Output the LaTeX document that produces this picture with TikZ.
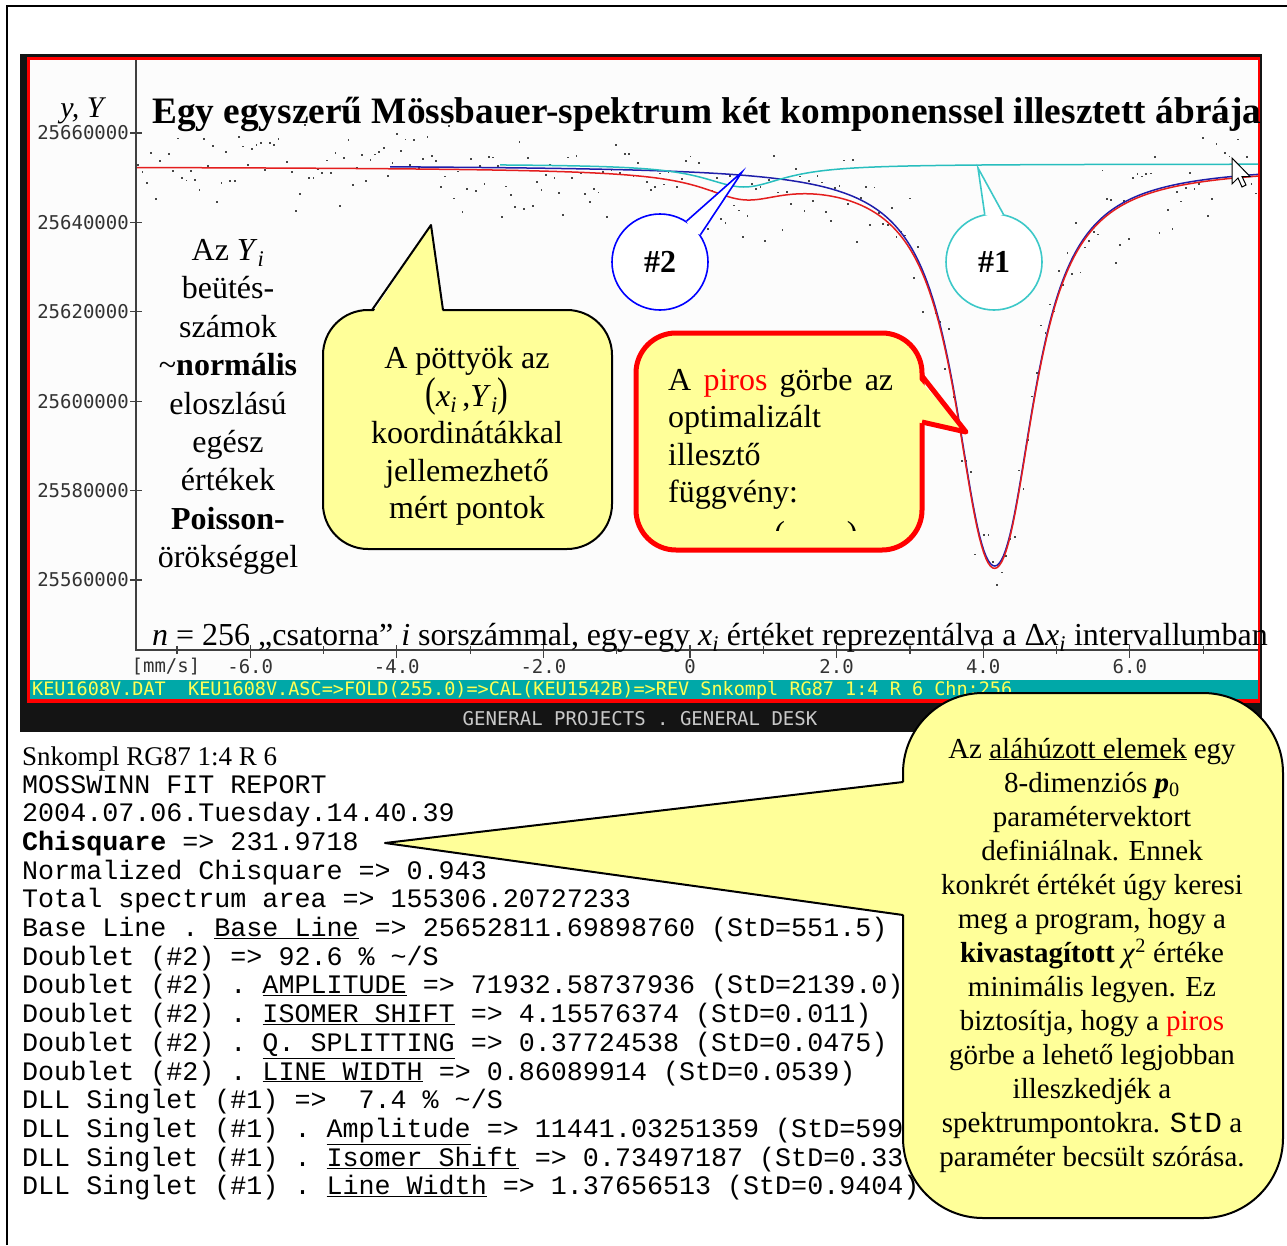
\documentclass[tikz,border=0pt]{standalone}
\usepackage{fontspec}
\setmainfont{Liberation Serif}
\setmonofont{Liberation Mono}
\newfontfamily\dosfont{DejaVu Sans Mono}
\usetikzlibrary{calc}

\definecolor{calloutyellow}{RGB}{255,255,153}
\definecolor{screenteal}{RGB}{0,168,168}
\definecolor{statusyellow}{RGB}{255,255,85}
\definecolor{plotbg}{RGB}{252,252,252}
\definecolor{curvered}{RGB}{228,30,30}
\definecolor{curveblue}{RGB}{30,30,170}
\definecolor{curvecyan}{RGB}{40,190,190}
\definecolor{onecyan}{RGB}{60,200,200}
\definecolor{deskgray}{RGB}{200,200,200}
\definecolor{dotgray}{RGB}{70,70,70}

\newcommand{\setfs}[2]{\fontsize{#1}{#2}\selectfont}
\newcommand{\subi}[1]{\textit{#1}\textsubscript{\textit{i}}}

\begin{document}
\begin{tikzpicture}[x=1pt, y=-1pt,
	declare function={lor(\v,\c,\g)=1/(1+((\v-\c)/\g)^2);
		dub(\v)=227*(lor(\v,3.967,0.52)+lor(\v,4.345,0.52));
		sng(\v)=23*lor(\v,0.735,0.69);},
	dos/.style={font=\dosfont\setfs{19}{22}},
	ticklab/.style={dos, text=black!80, inner sep=1pt},
	callout/.style={draw, line width=2, fill=calloutyellow},
	listing/.style={anchor=base west, inner sep=0, font=\ttfamily\setfs{26.7}{28.7}},
	bigtext/.style={font=\setfs{32}{38.4}, align=center}]
	\useasboundingbox (0,0) rectangle (1287,1245);
	\fill[white] (0,0) rectangle (1287,1245);
	% page frame
	\draw[line width=2.5] (7,1245) -- (7,6) -- (1287,6);

	% the screen
	\fill[black!92] (20,54) rectangle (1262,732);
	\fill[red] (27,57) rectangle (1260,703);
	\fill[plotbg] (30,60) rectangle (1258,680);
	\fill[screenteal] (30,680) rectangle (1258,699);
	\node[dos, text=statusyellow, anchor=west, inner sep=0, font=\dosfont\setfs{18.5}{20}] (status) at (32,690) {KEU1608V.DAT\ \ KEU1608V.ASC=>FOLD(255.0)=>CAL(KEU1542B)=>REV Snkompl RG87 1:4 R 6 Chn:256};
	\node[dos, text=deskgray] (desk) at (640,719) {GENERAL PROJECTS . GENERAL DESK};

	% measured points
	\pgfmathsetseed{4711}
	\foreach \i in {0,...,255}{
		\pgfmathsetmacro\px{136+(\i+0.5)*4.383}
		\pgfmathsetmacro\pv{(\px-690)/73.3}
		\pgfmathsetmacro\py{165+dub(\pv)+sng(\pv)+22*(rand+rand+rand)}
		\fill[dotgray] (\px-0.9,\py-0.9) rectangle (\px+0.9,\py+0.9);
	}

	% fitted curves
	\draw[curveblue, line width=1.5] plot[domain=390:1258, samples=400] (\x, {165+dub((\x-690)/73.3)});
	\draw[curvered, line width=1.5] plot[domain=136:1258, samples=500] (\x, {166.5+dub((\x-690)/73.3)+sng((\x-690)/73.3)});
	\draw[curvecyan, line width=1.5] plot[domain=500:1258, samples=300] (\x, {164+sng((\x-690)/73.3)});

	% axes
	\draw[black!75, line width=1.2] (136,60) -- (136,650) -- (1258,650);
	\foreach \val/\yy in {25660000/133, 25640000/222.4, 25620000/311.8, 25600000/401.2, 25580000/490.6, 25560000/580}{
		\draw[black!75, line width=1.2] (130,\yy) -- (142,\yy);
		\node[ticklab, anchor=east] at (130,\yy) {\val};
	}
	\foreach \lab/\xx in {-6.0/250.2, -4.0/396.8, -2.0/543.4, 0/690, 2.0/836.6, 4.0/983.2, 6.0/1129.8}{
		\draw[black!75, line width=1.2] (\xx,645) -- (\xx,658);
		\node[ticklab] at (\xx,667) {\lab};
	}
	\foreach \xx in {176.9, 323.5, 470.1, 616.7, 763.3, 909.9, 1056.5, 1203.1}
		\draw[black!75, line width=1.2] (\xx,646) -- (\xx,654);
	\node[ticklab] (unit) at (166,667) {[mm/s]};

	% mouse pointer
	\draw[fill=white, line width=1] (1232,158) -- ++(0,26) -- ++(6,-6) -- ++(4,9) -- ++(4,-2) -- ++(-4,-8.5) -- ++(8,0) -- cycle;

	% titles
	\node[anchor=base west, inner sep=0, font=\setfs{37.3}{40}\bfseries] (title) at (152,123) {Egy egyszerű Mössbauer-spektrum két komponenssel illesztett ábrája};
	\node[anchor=base, inner sep=0, font=\setfs{30}{36}\itshape] (ylab) at (82,117) {y, Y};
	\node[anchor=base west, inner sep=0, font=\setfs{32}{36}] (chan) at (152,645) {\textit{n} = 256 „csatorna” \textit{i} sorszámmal, egy-egy \subi{x} értéket reprezentálva a Δ\subi{x} intervallumban};
	\node[bigtext] (counts) at (228,407) {Az \subi{Y}\\beütés-\\számok\\\textasciitilde\textbf{normális}\\eloszlású\\egész\\értékek\\\textbf{Poisson-}\\örökséggel};

	% callout: measured points
	\draw[callout, rounded corners=45] (323,310) rectangle (612,549);
	\coordinate (dotstip) at (431,225);
	\fill[calloutyellow] (372,314) -- (dotstip) -- (443,314) -- cycle;
	\draw[line width=2, line join=round] (372,310) -- (dotstip) -- (443,310);
	\node[bigtext, font=\setfs{32}{37.5}] (dots) at (467,436) {A pöttyök az\\\scalebox{1}[1.3]{(}\subi{x}\,,\subi{Y}\scalebox{1}[1.3]{)}\\koordinátákkal\\jellemezhető\\mért pontok};

	% callouts #2 and #1
	\node[circle, draw=blue, fill=white, line width=1.6, minimum size=96pt, font=\setfs{32}{38}\bfseries] (two) at (660,262) {\#2};
	\coordinate (twotip) at (742,172);
	\fill[white] (two.34) -- (twotip) -- (two.57) -- ($(two.45)!6pt!(two.center)$) -- cycle;
	\draw[blue, line width=1.6] (two.34) -- (twotip) -- (two.57);
	\node[circle, draw=onecyan, fill=white, line width=1.6, minimum size=96pt, font=\setfs{32}{38}\bfseries] (one) at (994,262) {\#1};
	\coordinate (onetip) at (978,168);
	\fill[white] (one.79) -- (onetip) -- (one.101) -- ($(one.90)!6pt!(one.center)$) -- cycle;
	\draw[onecyan, line width=1.6] (one.79) -- (onetip) -- (one.101);

	% callout: fitted function
	\draw[red, line width=5, fill=calloutyellow, rounded corners=40] (636,333) rectangle (922,550);
	\coordinate (fittip) at (966,432);
	\fill[calloutyellow] (916,376) -- (fittip) -- (916,422) -- cycle;
	\draw[red, line width=5, line join=round] (922,376) -- (fittip) -- (922,422);
	\node[anchor=north west, align=left, inner sep=0, font=\setfs{32}{37.5}] (fit) at (668,368) {\makebox[225pt][s]{A \textcolor{red}{piros} görbe az}\\optimalizált\\illesztő\\függvény:};
	\begin{scope}
		\clip (640,500) rectangle (918,530);
		\node[font=\setfs{32}{38}] (fpar) at (816,536) {(\hspace{62pt})};
	\end{scope}

	% fit report
	\node[anchor=base west, inner sep=0, font=\setfs{27}{30}] (l0) at (22,765) {Snkompl RG87 1:4 R 6};
	\foreach \txt [count=\k from 0] in {
		{MOSSWINN FIT REPORT},
		{2004.07.06.Tuesday.14.40.39},
		{\textbf{Chisquare} => 231.9718},
		{Normalized Chisquare => 0.943},
		{Total spectrum area => 155306.20727233},
		{Base Line . \underline{Base Line} => 25652811.69898760 (StD=551.5)},
		{Doublet (\#2) => 92.6 \% \textasciitilde/S},
		{Doublet (\#2) . \underline{AMPLITUDE} => 71932.58737936 (StD=2139.0)},
		{Doublet (\#2) . \underline{ISOMER SHIFT} => 4.15576374 (StD=0.011)},
		{Doublet (\#2) . \underline{Q. SPLITTING} => 0.37724538 (StD=0.0475)},
		{Doublet (\#2) . \underline{LINE WIDTH} => 0.86089914 (StD=0.0539)},
		{DLL Singlet (\#1) =>~ 7.4 \% \textasciitilde/S},
		{DLL Singlet (\#1) . \underline{Amplitude} => 11441.03251359 (StD=599},
		{DLL Singlet (\#1) . \underline{Isomer Shift} => 0.73497187 (StD=0.33},
		{DLL Singlet (\#1) . \underline{Line Width} => 1.37656513 (StD=0.9404)}}
		\node[listing] at (22,{793+\k*28.7}) {\txt};

	% callout: parameter vector
	\draw[callout, rounded corners=80] (903,693) rectangle (1283,1218);
	\coordinate (chitip) at (385,843);
	\fill[calloutyellow] (906,782) -- (chitip) -- (906,915) -- cycle;
	\draw[line width=2, line join=round] (903,782) -- (chitip) -- (903,915);
	\node[align=center, font=\setfs{29}{34}] (p0note) at (1092,955) {Az \underline{aláhúzott elemek} egy\\8-dimenziós \textbf{\textit{p}}\textsubscript{0}\\paramétervektort\\definiálnak. Ennek\\konkrét értékét úgy keresi\\meg a program, hogy a\\\textbf{kivastagított} \textit{χ}\textsuperscript{2} értéke\\minimális legyen. Ez\\biztosítja, hogy a \textcolor{red}{piros}\\görbe a lehető legjobban\\illeszkedjék a\\spektrumpontokra. {\ttfamily StD} a\\paraméter becsült szórása.};
\end{tikzpicture}
\end{document}
